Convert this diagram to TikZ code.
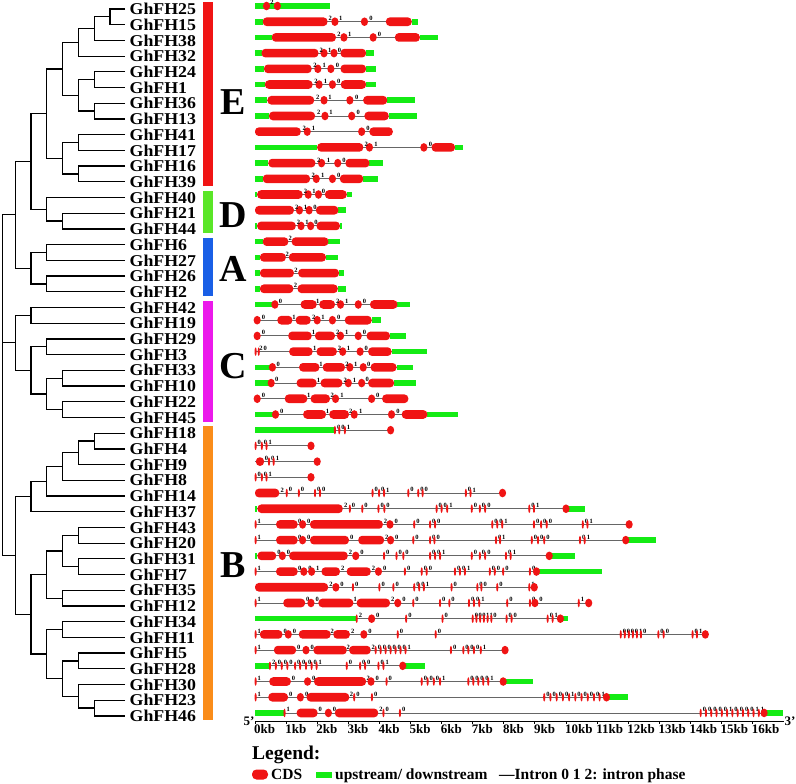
\documentclass[tikz,border=0pt]{standalone}
\usepackage{graphicx}
\usepackage{fontspec}
\setmainfont{Liberation Serif}
\definecolor{cdsred}{RGB}{240,20,20}
\definecolor{utrgreen}{RGB}{20,235,20}
\definecolor{grpE}{RGB}{240,20,20}
\definecolor{grpD}{RGB}{90,230,40}
\definecolor{grpA}{RGB}{25,95,230}
\definecolor{grpC}{RGB}{235,25,235}
\definecolor{grpB}{RGB}{250,140,25}
% gene structure pieces (x in kb, y in px around the row line)
\newcommand{\gintr}[2]{\draw[intron] (#1,0) -- (#2,0);}
\newcommand{\gutr}[2]{\fill[utrgreen] (#1,-2.8) rectangle (#2,2.8);}
\newcommand{\gcds}[2]{\fill[cdsred,rounded corners=3.8pt] (#1,-4.3) rectangle (#2,4.3);}
\newcommand{\gdot}[1]{\fill[cdsred] (#1,0) ellipse (3.6pt and 4.3pt);}
\newcommand{\gtick}[1]{\fill[cdsred] (#1,0) ellipse (1.1pt and 4.3pt);}
\newcommand{\gph}[2]{\node[phase] at ({#1},-0.8) {#2};}
\newcommand{\gphs}[1]{\foreach \xx/\pp in {#1}{\gph{\xx}{\pp}}}
\newcommand{\gdots}[1]{\foreach \xx in {#1}{\gdot{\xx}}}
\newcommand{\gdotps}[1]{\foreach \xx/\pp in {#1}{\gdot{\xx}\gph{\xx+0.2}{\pp}}}
\newcommand{\gticks}[1]{\foreach \xx/\pp in {#1}{\gtick{\xx}\gph{\xx+0.12}{\pp}}}
\newcommand{\gene}[2]{\begin{scope}[shift={(0,{6+15.71*(#1-1)})}]#2\end{scope}}
\begin{document}
\begin{tikzpicture}[x=1pt,y=-1pt,
  tree/.style={line width=1.25pt},
  lab/.style={anchor=west,inner xsep=4.5pt,inner ysep=0pt,font=\fontsize{16.5}{16.5}\selectfont\bfseries},
  grp/.style={inner sep=0pt,font=\fontsize{38}{38}\selectfont\bfseries},
  intron/.style={draw=black!60,line width=0.9pt},
  phase/.style={anchor=south,inner sep=0pt,font=\fontsize{6.5}{6.5}\selectfont\bfseries},
  axisline/.style={draw=black,line width=0.9pt},
  kblab/.style={anchor=north west,inner sep=0pt,xshift=-1pt,font=\fontsize{13}{13}\selectfont\bfseries},
  endlab/.style={inner sep=0pt,font=\fontsize{13}{13}\selectfont\bfseries},
  legtext/.style={anchor=base west,inner sep=0pt,font=\fontsize{15.5}{15.5}\selectfont\bfseries}]
\useasboundingbox (0,0) rectangle (796,784);

% gene names
\foreach \gn [count=\i] in {25,15,38,32,24,1,36,13,41,17,16,39,40,21,44,6,27,26,2,42,19,29,3,33,10,22,45,18,4,9,8,14,37,43,20,31,7,35,12,34,11,5,28,30,23,46}
  {\node[lab] (g\gn) at (125,{9+15.71*(\i-1)}) {\scalebox{1.08}[1]{GhFH\gn}};}

% tree: group E
\coordinate (e1) at (110,16.86);
\coordinate (e2) at (94.3,28.64);
\coordinate (e3) at (78.3,42.39);
\coordinate (e4) at (94.3,79.70);
\coordinate (e5) at (94.3,111.12);
\coordinate (e6) at (78.3,95.41);
\coordinate (e7) at (62.7,68.90);
\coordinate (e8) at (78.3,142.54);
\coordinate (e9) at (78.3,173.96);
\coordinate (e10) at (62.7,158.25);
\coordinate (eE) at (46.7,113.58);
\draw[tree] (g25.west) -| (e1) |- (g15.west);
\draw[tree] (e1) -| (e2) |- (g38.west);
\draw[tree] (e2) -| (e3) |- (g32.west);
\draw[tree] (g24.west) -| (e4) |- (g1.west);
\draw[tree] (g36.west) -| (e5) |- (g13.west);
\draw[tree] (e4) -| (e6) |- (e5);
\draw[tree] (e3) -| (e7) |- (e6);
\draw[tree] (g41.west) -| (e8) |- (g17.west);
\draw[tree] (g16.west) -| (e9) |- (g39.west);
\draw[tree] (e8) -| (e10) |- (e9);
\draw[tree] (e7) -| (eE) |- (e10);
% group D
\coordinate (d1) at (62.7,221.09);
\coordinate (dD) at (46.7,209.30);
\coordinate (ed) at (31,161.44);
\draw[tree] (g21.west) -| (d1) |- (g44.west);
\draw[tree] (g40.west) -| (dD) |- (d1);
\draw[tree] (eE) -| (ed) |- (dD);
% group A
\coordinate (a1) at (46.7,252.50);
\coordinate (a2) at (46.7,283.93);
\coordinate (aA) at (31,268.20);
\coordinate (eda) at (15.7,214.80);
\draw[tree] (g6.west) -| (a1) |- (g27.west);
\draw[tree] (g26.west) -| (a2) |- (g2.west);
\draw[tree] (a1) -| (aA) |- (a2);
\draw[tree] (ed) -| (eda) |- (aA);
% group C
\coordinate (c1) at (31,315.35);
\coordinate (c2) at (46.7,346.77);
\coordinate (c3) at (62.7,378.19);
\coordinate (c4) at (62.7,409.61);
\coordinate (c5) at (46.7,393.90);
\coordinate (c6) at (31,370.33);
\coordinate (cC) at (15.7,342.84);
\draw[tree] (g42.west) -| (c1) |- (g19.west);
\draw[tree] (g29.west) -| (c2) |- (g3.west);
\draw[tree] (g33.west) -| (c3) |- (g10.west);
\draw[tree] (g22.west) -| (c4) |- (g45.west);
\draw[tree] (c3) -| (c5) |- (c4);
\draw[tree] (c2) -| (c6) |- (c5);
\draw[tree] (c1) -| (cC) |- (c6);
% group B
\coordinate (b1) at (94.3,441.03);
\coordinate (b2) at (78.3,452.81);
\coordinate (b3) at (62.7,466.56);
\coordinate (b4) at (46.7,481.28);
\coordinate (b5) at (31,496.50);
\coordinate (b6) at (78.3,535.29);
\coordinate (b7) at (78.3,566.71);
\coordinate (b8) at (62.7,551.00);
\coordinate (b9) at (62.7,598.13);
\coordinate (b10) at (46.7,574.56);
\coordinate (b11) at (62.7,629.55);
\coordinate (b12) at (78.3,660.97);
\coordinate (b13) at (94.3,708.10);
\coordinate (b14) at (78.3,696.31);
\coordinate (b15) at (62.7,678.64);
\coordinate (b16) at (46.7,654.10);
\coordinate (b17) at (31,614.33);
\coordinate (bB) at (15.7,555.41);
\draw[tree] (g18.west) -| (b1) |- (g4.west);
\draw[tree] (b1) -| (b2) |- (g9.west);
\draw[tree] (b2) -| (b3) |- (g8.west);
\draw[tree] (b3) -| (b4) |- (g14.west);
\draw[tree] (b4) -| (b5) |- (g37.west);
\draw[tree] (g43.west) -| (b6) |- (g20.west);
\draw[tree] (g31.west) -| (b7) |- (g7.west);
\draw[tree] (b6) -| (b8) |- (b7);
\draw[tree] (g35.west) -| (b9) |- (g12.west);
\draw[tree] (b8) -| (b10) |- (b9);
\draw[tree] (g34.west) -| (b11) |- (g11.west);
\draw[tree] (g5.west) -| (b12) |- (g28.west);
\draw[tree] (g23.west) -| (b13) |- (g46.west);
\draw[tree] (g30.west) -| (b14) |- (b13);
\draw[tree] (b12) -| (b15) |- (b14);
\draw[tree] (b11) -| (b16) |- (b15);
\draw[tree] (b10) -| (b17) |- (b16);
\draw[tree] (b5) -| (bB) |- (b17);
% root
\coordinate (root) at (2.7,385);
\draw[tree] (eda) -| (root) |- (bB);
\draw[tree] (cC) -- (cC -| root);

% group bars and letters
\fill[grpE] (203,2) rectangle (213,185.8);
\fill[grpD] (203,190.5) rectangle (213,233);
\fill[grpA] (203,237.6) rectangle (213,295.8);
\fill[grpC] (203,300.5) rectangle (213,421.5);
\fill[grpB] (203,426.2) rectangle (213,720);
\node[grp] (lE) at (233,101.7) {E};
\node[grp] (lD) at (233,215) {D};
\node[grp] (lA) at (233,269) {A};
\node[grp] (lC) at (233,366) {C};
\node[grp] (lB) at (233,565) {B};

% gene structures
\begin{scope}[x=31.1pt,shift={(255pt,0pt)}]
\gene{1}{\gintr{0}{2.41}\gutr{0}{2.41}\gdots{0.37,0.72}\gphs{0.55/2}}
\gene{2}{\gintr{0}{5.25}\gutr{0}{0.25}\gutr{5.04}{5.25}\gcds{0.25}{2.33}\gcds{4.21}{5.04}\gdots{2.57,3.52}\gphs{2.42/2,2.76/1,3.73/0}}
\gene{3}{\gintr{0}{5.87}\gutr{0}{0.54}\gutr{5.3}{5.87}\gcds{0.54}{2.6}\gcds{4.5}{5.3}\gdots{2.86,3.8}\gphs{2.7/2,3.05/1,4.0/0}}
\gene{4}{\gintr{0}{3.84}\gutr{0}{0.21}\gutr{3.57}{3.84}\gcds{0.21}{2.04}\gcds{2.75}{3.57}\gdots{2.22,2.54}\gphs{2.13/2,2.4/1,2.72/0}}
\gene{5}{\gintr{0}{3.89}\gutr{0}{0.29}\gutr{3.57}{3.89}\gcds{0.29}{1.82}\gcds{2.75}{3.57}\gdots{2.02,2.44}\gphs{1.93/2,2.23/1,2.65/0}}
\gene{6}{\gintr{0}{3.89}\gutr{0}{0.32}\gutr{3.57}{3.89}\gcds{0.32}{1.85}\gcds{2.76}{3.57}\gdots{2.06,2.49}\gphs{1.96/2,2.27/1,2.69/0}}
\gene{7}{\gintr{0}{5.14}\gutr{0}{0.4}\gutr{4.25}{5.14}\gcds{0.4}{1.9}\gcds{3.48}{4.25}\gdots{2.22,3.05}\gphs{2.02/2,2.41/1,3.27/0}}
\gene{8}{\gintr{0}{5.2}\gutr{0}{0.45}\gutr{4.3}{5.2}\gcds{0.45}{1.93}\gcds{3.52}{4.3}\gdots{2.25,3.11}\gphs{2.05/2,2.44/1,3.32/0}}
\gene{9}{\gintr{0}{4.43}\gcds{0}{1.47}\gcds{3.68}{4.43}\gdots{1.68,3.43}\gphs{1.58/2,1.88/1,3.63/0}}
\gene{10}{\gintr{0}{6.7}\gutr{0}{2.0}\gutr{6.43}{6.7}\gcds{2.0}{3.48}\gcds{5.68}{6.43}\gdots{3.68,5.43}\gphs{3.58/2,3.89/1,5.64/0}}
\gene{11}{\gintr{0}{4.1}\gutr{0}{0.43}\gutr{3.68}{4.1}\gcds{0.43}{1.94}\gcds{2.91}{3.68}\gdots{2.14,2.66}\gphs{2.05/2,2.36/1,2.86/0}}
\gene{12}{\gintr{0}{3.97}\gutr{0}{0.25}\gutr{3.48}{3.97}\gcds{0.25}{1.77}\gcds{2.73}{3.48}\gdots{1.97,2.49}\gphs{1.87/2,2.18/1,2.69/0}}
\gene{13}{\gintr{0}{3.11}\gutr{0}{0.07}\gutr{2.95}{3.11}\gcds{0.07}{1.53}\gcds{2.25}{2.95}\gdots{1.71,2.04}\gphs{1.62/2,1.9/1,2.2/0}}
\gene{14}{\gintr{0}{2.92}\gutr{2.68}{2.92}\gcds{0}{1.25}\gcds{1.96}{2.68}\gdots{1.43,1.74}\gphs{1.34/2,1.62/1,1.93/0}}
\gene{15}{\gintr{0}{2.79}\gutr{0}{0.07}\gutr{2.73}{2.79}\gcds{0.07}{1.31}\gcds{1.98}{2.73}\gdots{1.48,1.79}\gphs{1.4/2,1.67/1,1.96/0}}
\gene{16}{\gintr{0}{2.73}\gutr{0}{0.25}\gutr{2.36}{2.73}\gcds{0.25}{1.07}\gcds{1.18}{2.36}\gphs{1.13/2}}
\gene{17}{\gintr{0}{2.66}\gutr{0}{0.16}\gutr{2.28}{2.66}\gcds{0.16}{0.99}\gcds{1.09}{2.28}\gphs{1.04/2}}
\gene{18}{\gintr{0}{2.86}\gutr{0}{0.16}\gutr{2.7}{2.86}\gcds{0.16}{1.25}\gcds{1.39}{2.7}\gphs{1.32/2}}
\gene{19}{\gintr{0}{2.92}\gutr{0}{0.16}\gutr{2.66}{2.92}\gcds{0.16}{1.23}\gcds{1.37}{2.66}\gphs{1.3/2}}
\gene{20}{\gintr{0}{4.98}\gutr{0}{0.59}\gutr{4.58}{4.98}\gcds{1.47}{1.98}\gcds{2.07}{2.57}\gcds{3.7}{4.58}\gdots{0.64,2.75,3.32}\gphs{0.82/0,2.02/1,2.66/2,2.95/1,3.52/0}}
\gene{21}{\gintr{0}{4.05}\gutr{3.75}{4.05}\gcds{0.72}{1.2}\gcds{1.31}{1.79}\gcds{2.89}{3.75}\gdots{0.07,2.0,2.49}\gphs{0.27/0,1.25/1,1.89/2,2.19/1,2.69/0}}
\gene{22}{\gintr{0}{4.85}\gutr{4.34}{4.85}\gcds{1.07}{1.82}\gcds{1.93}{2.57}\gcds{3.59}{4.34}\gdots{0.07,2.75,3.32}\gphs{0.27/0,1.88/1,2.66/2,2.95/1,3.52/0}}
\gene{23}{\gintr{0}{5.52}\gutr{4.39}{5.52}\gcds{1.1}{1.85}\gcds{1.98}{2.63}\gcds{3.64}{4.39}\gtick{0.02}\gtick{0.12}\gdots{2.82,3.38}\gphs{0.19/2,0.33/0,1.92/1,2.72/2,3.01/1,3.58/0}}
\gene{24}{\gintr{0}{5.09}\gutr{0}{0.5}\gutr{4.55}{5.09}\gcds{1.42}{2.07}\gcds{2.18}{2.89}\gcds{3.72}{4.55}\gdots{0.56,3.05,3.48}\gphs{0.75/0,2.12/1,2.96/2,3.24/1,3.66/0}}
\gene{25}{\gintr{0}{5.18}\gutr{0}{0.5}\gutr{4.47}{5.18}\gcds{1.34}{1.98}\gcds{2.11}{2.81}\gcds{3.64}{4.47}\gdots{0.52,3.0,3.43}\gphs{0.7/0,2.04/1,2.9/2,3.2/1,3.61/0}}
\gene{26}{\gintr{0}{4.93}\gcds{0.96}{1.68}\gcds{1.79}{2.41}\gcds{4.09}{4.93}\gdots{0.07,2.59,3.75}\gphs{0.27/0,1.73/1,2.48/2,2.8/1,3.95/0}}
\gene{27}{\gintr{0}{6.54}\gutr{0}{0.61}\gutr{5.54}{6.54}\gcds{1.55}{2.28}\gcds{2.39}{3.02}\gcds{4.72}{5.54}\gdots{0.66,3.19,4.39}\gphs{0.86/0,2.33/1,3.08/2,3.4/1,4.6/0}}
\gene{28}{\gintr{0}{4.36}\gutr{0}{2.54}\gticks{2.57/0,2.71/0,2.89/1}\gdot{4.36}}
\gene{29}{\gintr{0}{1.8}\gticks{0.02/0,0.22/0,0.37/1}\gdot{1.8}}
\gene{30}{\gintr{0}{2.0}\gcds{0.03}{0.29}\gph{0.37}{0}\gticks{0.45/0,0.6/1}\gdot{2.0}}
\gene{31}{\gintr{0}{1.8}\gticks{0.02/0,0.22/0,0.37/1}\gdot{1.8}}
\gene{32}{\gintr{0}{7.96}\gcds{0}{0.78}\gph{0.88}{2}\gticks{1.02/0,1.41/0,1.93/0,2.09/0,3.78/0,3.99/0,4.15/1,4.93/0,5.25/0,5.39/0,6.78/0,6.93/1}\gdot{7.96}}
\gene{33}{\gintr{0}{10.61}\gutr{0}{0.08}\gutr{10.0}{10.61}\gcds{0.08}{2.82}\gph{2.92}{2}\gticks{3.05/0,3.45/0,3.97/0,4.16/0,5.84/0,6.0/0,6.18/1,6.97/0,7.23/0,7.4/0,8.82/0,8.97/1}\gdot{10.0}}
\gene{34}{\gintr{0}{12.03}\gticks{0.02/1}\gcds{0.68}{1.37}\gph{1.44}{0}\gdotps{1.53/0}\gcds{1.77}{4.11}\gph{4.2}{2}\gdotps{4.34/0}\gticks{5.12/0,5.63/0,5.79/0,7.63/0,7.79/0,7.95/1,8.97/0,9.2/0,9.38/0,10.54/0,10.69/1}\gdot{12.03}}
\gene{35}{\gintr{0}{12.9}\gutr{11.92}{12.9}\gticks{0.02/1}\gcds{0.68}{1.37}\gph{1.44}{0}\gdotps{1.53/0}\gcds{1.77}{3.02}\gph{3.11}{0}\gcds{3.32}{4.15}\gph{4.24}{2}\gdotps{4.36/0}\gticks{5.09/0,5.63/0,5.77/0,7.75/0,7.88/1,8.9/0,9.1/0,9.3/0,10.45/0,10.6/1}\gdot{11.92}}
\gene{36}{\gintr{0}{10.29}\gutr{0}{0.08}\gutr{9.46}{10.29}\gcds{0.08}{0.68}\gph{0.77}{0}\gdotps{0.88/0}\gcds{1.1}{2.98}\gph{3.07}{2}\gdotps{3.24/0}\gticks{4.15/0,4.55/0,4.77/0,5.63/0,5.79/0,5.95/1,6.97/0,7.23/0,7.4/0,8.07/0,8.22/1}\gdot{9.46}}
\gene{37}{\gintr{0}{11.15}\gutr{9.05}{11.15}\gticks{0.02/1}\gcds{0.68}{1.37}\gph{1.44}{0}\gdotps{1.57/0,1.82/1}\gcds{2.14}{2.73}\gph{2.82}{2}\gcds{2.95}{3.72}\gph{3.81}{2}\gdotps{3.97/0}\gticks{4.82/0,5.36/0,5.52/0,6.43/0,6.59/0,6.75/1,7.55/0,7.71/0,7.98/0,8.84/0}\gdot{9.05}}
\gene{38}{\gintr{0}{8.98}\gcds{0}{2.35}\gph{2.44}{2}\gdotps{2.6/0}\gticks{3.15/0,4.0/0,4.45/0,5.12/0,5.28/0,5.43/1,6.32/0,7.15/0,7.28/0,7.79/0,8.82/1}\gdot{8.98}}
\gene{39}{\gintr{0}{10.73}\gticks{0.02/1}\gcds{0.91}{1.61}\gph{1.7}{0}\gdotps{1.8/0}\gcds{2.04}{3.16}\gph{3.22}{1}\gcds{3.27}{4.34}\gph{4.43}{2}\gdotps{4.59/0}\gticks{5.09/0,5.95/0,6.25/0,6.88/0,7.04/0,7.21/1,8.11/0,8.84/0}\gdotps{9.0/0}\gticks{10.41/1}\gdot{10.73}}
\gene{40}{\gintr{0}{10.05}\gutr{0}{3.25}\gutr{9.82}{10.05}\gticks{3.27/2}\gdotps{3.75/0}\gticks{4.86/0,6.03/0,7.0/0,7.12/0,7.24/0,7.36/1,7.48/1,7.6/0,8.09/0,8.25/0,9.41/0,9.57/1}\gdot{9.82}}
\gene{41}{\gintr{0}{14.48}\gticks{0.02/1}\gcds{0.16}{0.88}\gph{0.97}{0}\gdotps{1.07/0}\gcds{1.41}{2.43}\gph{2.48}{2}\gcds{2.52}{3.05}\gph{3.14}{2}\gdotps{3.5/0}\gticks{4.59/0,5.81/0,11.76/0,11.89/0,12.02/0,12.15/0,12.28/1,12.41/0,12.97/0,13.14/0,14.07/0,14.21/1}\gdot{14.48}}
\gene{42}{\gintr{0}{8.04}\gticks{0.02/1}\gcds{0.61}{1.32}\gph{1.41}{0}\gdotps{1.64/0}\gcds{1.88}{2.95}\gph{3.0}{2}\gcds{3.03}{3.72}\gph{3.8}{2}\gticks{3.88/0,4.04/0,4.2/0,4.36/0,4.52/0,4.68/0,4.84/1,6.3/0,6.7/0,6.86/0,7.04/0,7.26/1}\gdot{8.04}}
\gene{43}{\gintr{0}{5.46}\gutr{0}{0.46}\gutr{4.75}{5.46}\gticks{0.48/2,0.67/0,0.86/0,1.04/0,1.29/0,1.45/0,1.64/0,1.82/0,1.98/1,2.95/0,3.38/0,3.54/0,3.97/0,4.13/1}\gdot{4.75}}
\gene{44}{\gintr{0}{8.93}\gutr{7.98}{8.93}\gticks{0.02/1}\gcds{0.46}{1.15}\gph{1.24}{0}\gdotps{1.69/0}\gcds{1.9}{3.57}\gph{3.64}{2}\gdotps{3.73/0}\gticks{4.23/0,5.36/0,5.55/0,5.75/0,5.95/1,6.86/0,7.02/0,7.18/0,7.34/0,7.5/1}\gdot{7.98}}
\gene{45}{\gintr{0}{12.0}\gutr{11.3}{12.0}\gticks{0.02/1}\gcds{0.43}{1.06}\gph{1.15}{0}\gdotps{1.46/0}\gcds{1.66}{3.03}\gph{3.1}{2}\gticks{3.19/0,3.76/0,9.3/0,9.5/0,9.7/0,9.9/0,10.1/1,10.3/0,10.5/0,10.7/0,10.9/0,11.08/1}\gdot{11.3}}
\gene{46}{\gintr{0}{16.99}\gutr{0}{0.93}\gutr{16.37}{16.99}\gticks{0.95/1}\gcds{1.34}{2.01}\gph{2.1}{0}\gdotps{2.36/0}\gcds{2.57}{3.96}\gph{4.05}{2}\gticks{4.13/0,4.66/0,14.33/0,14.5/0,14.67/0,14.84/0,15.01/0,15.18/1,15.35/0,15.52/0,15.69/0,15.86/0,16.03/1,16.2/1}\gdot{16.37}}
% kb axis
\draw[axisline] (0,721) -- (17.0,721);
\foreach \q in {0,...,16}
  {\draw[axisline] (\q,721) -- (\q,723.5);
   \node[kblab] at (\q,724) {\q kb};}
\end{scope}
\node[endlab] (five) at (249,721) {5'};
\node[endlab] (three) at (790,721) {3'};

% legend
\node[anchor=base west,inner sep=0pt,font=\fontsize{19.5}{19.5}\selectfont\bfseries] (leg) at (252,759) {Legend:};
\fill[cdsred,rounded corners=4.5pt] (252,769.5) rectangle (268,779.5);
\node[legtext] (lcds) at (271,779.5) {CDS};
\fill[utrgreen] (316,771.5) rectangle (331.5,777.5);
\node[legtext] (lutr) at (335,779.5) {upstream/ downstream};
\node[legtext] (lintr) at (499,779.5) {\textemdash Intron 0 1 2: intron phase};
\end{tikzpicture}
\end{document}
